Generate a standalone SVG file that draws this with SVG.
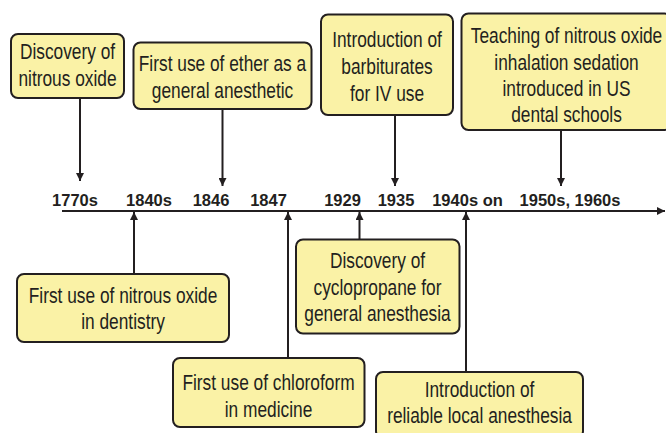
<svg xmlns="http://www.w3.org/2000/svg" width="666" height="433" viewBox="0 0 666 433">
<style>
.box{fill:#FAF2A6;stroke:#231F20;stroke-width:2}
.bt{font-family:"Liberation Sans",Arial,sans-serif;font-size:22.5px;fill:#231F20;text-anchor:middle}
.yr{font-family:"Liberation Sans",Arial,sans-serif;font-weight:bold;font-size:16.5px;fill:#231F20;text-anchor:middle}
.ln{stroke:#231F20;stroke-width:2;fill:none}
</style>
<defs>
<marker id="ah" viewBox="0 0 10 10" refX="10" refY="5" markerWidth="4" markerHeight="4" orient="auto" markerUnits="strokeWidth">
<path d="M0,0 L10,5 L0,10 z" fill="#231F20"/>
</marker>
</defs>
<rect width="666" height="433" fill="#fff"/>
<g id="connectors">
<line class="ln" x1="62" y1="211" x2="665" y2="211" marker-end="url(#ah)"/>
<line class="ln" x1="80" y1="98" x2="80" y2="181" marker-end="url(#ah)"/>
<line class="ln" x1="222.5" y1="109" x2="222.5" y2="186" marker-end="url(#ah)"/>
<line class="ln" x1="395" y1="115" x2="395" y2="186" marker-end="url(#ah)"/>
<line class="ln" x1="561" y1="130" x2="561" y2="186" marker-end="url(#ah)"/>
<line class="ln" x1="134" y1="274" x2="134" y2="212" marker-end="url(#ah)"/>
<line class="ln" x1="288" y1="358" x2="288" y2="212" marker-end="url(#ah)"/>
<line class="ln" x1="359.5" y1="239" x2="359.5" y2="212" marker-end="url(#ah)"/>
<line class="ln" x1="466" y1="372" x2="466" y2="212" marker-end="url(#ah)"/>
</g>
<g id="years">
<text class="yr" x="75" y="206">1770s</text>
<text class="yr" x="149" y="206">1840s</text>
<text class="yr" x="211" y="206">1846</text>
<text class="yr" x="268.5" y="206">1847</text>
<text class="yr" x="342.5" y="206">1929</text>
<text class="yr" x="396" y="206">1935</text>
<text class="yr" x="467.5" y="206">1940s on</text>
<text class="yr" x="570" y="206">1950s, 1960s</text>
</g>
<g id="n1">
<rect class="box" x="11" y="34" width="113" height="64" rx="7"/>
<g transform="translate(67.5,0) scale(0.77,1)">
<text class="bt" x="0" y="59.5">Discovery of</text>
<text class="bt" x="0" y="86.5">nitrous oxide</text>
</g>
</g>
<g id="n2">
<rect class="box" x="133.5" y="42.5" width="178" height="66.5" rx="7"/>
<g transform="translate(222.5,0) scale(0.77,1)">
<text class="bt" x="0" y="71">First use of ether as a</text>
<text class="bt" x="0" y="98">general anesthetic</text>
</g>
</g>
<g id="n3">
<rect class="box" x="321" y="14.5" width="132" height="100.5" rx="7"/>
<g transform="translate(387,0) scale(0.77,1)">
<text class="bt" x="0" y="47.5">Introduction of</text>
<text class="bt" x="0" y="74.5">barbiturates</text>
<text class="bt" x="0" y="101.5">for IV use</text>
</g>
</g>
<g id="n4">
<rect class="box" x="461.5" y="13.5" width="210" height="116.5" rx="7"/>
<g transform="translate(566.5,0) scale(0.77,1)">
<text class="bt" x="0" y="43.5">Teaching of nitrous oxide</text>
<text class="bt" x="0" y="70">inhalation sedation</text>
<text class="bt" x="0" y="96.5">introduced in US</text>
<text class="bt" x="0" y="122.5">dental schools</text>
</g>
</g>
<g id="n5">
<rect class="box" x="17" y="274" width="212" height="68" rx="7"/>
<g transform="translate(123,0) scale(0.77,1)">
<text class="bt" x="0" y="303">First use of nitrous oxide</text>
<text class="bt" x="0" y="329.5">in dentistry</text>
</g>
</g>
<g id="n6">
<rect class="box" x="173" y="358" width="191.5" height="69" rx="7"/>
<g transform="translate(268.5,0) scale(0.77,1)">
<text class="bt" x="0" y="390.5">First use of chloroform</text>
<text class="bt" x="0" y="417">in medicine</text>
</g>
</g>
<g id="n7">
<rect class="box" x="296" y="239.5" width="163.5" height="94" rx="7"/>
<g transform="translate(377.5,0) scale(0.77,1)">
<text class="bt" x="0" y="268.5">Discovery of</text>
<text class="bt" x="0" y="295">cyclopropane for</text>
<text class="bt" x="0" y="321">general anesthesia</text>
</g>
</g>
<g id="n8">
<rect class="box" x="376" y="372" width="207" height="66" rx="7"/>
<g transform="translate(479.5,0) scale(0.77,1)">
<text class="bt" x="0" y="397.5">Introduction of</text>
<text class="bt" x="0" y="423.5">reliable local anesthesia</text>
</g>
</g>
</svg>
